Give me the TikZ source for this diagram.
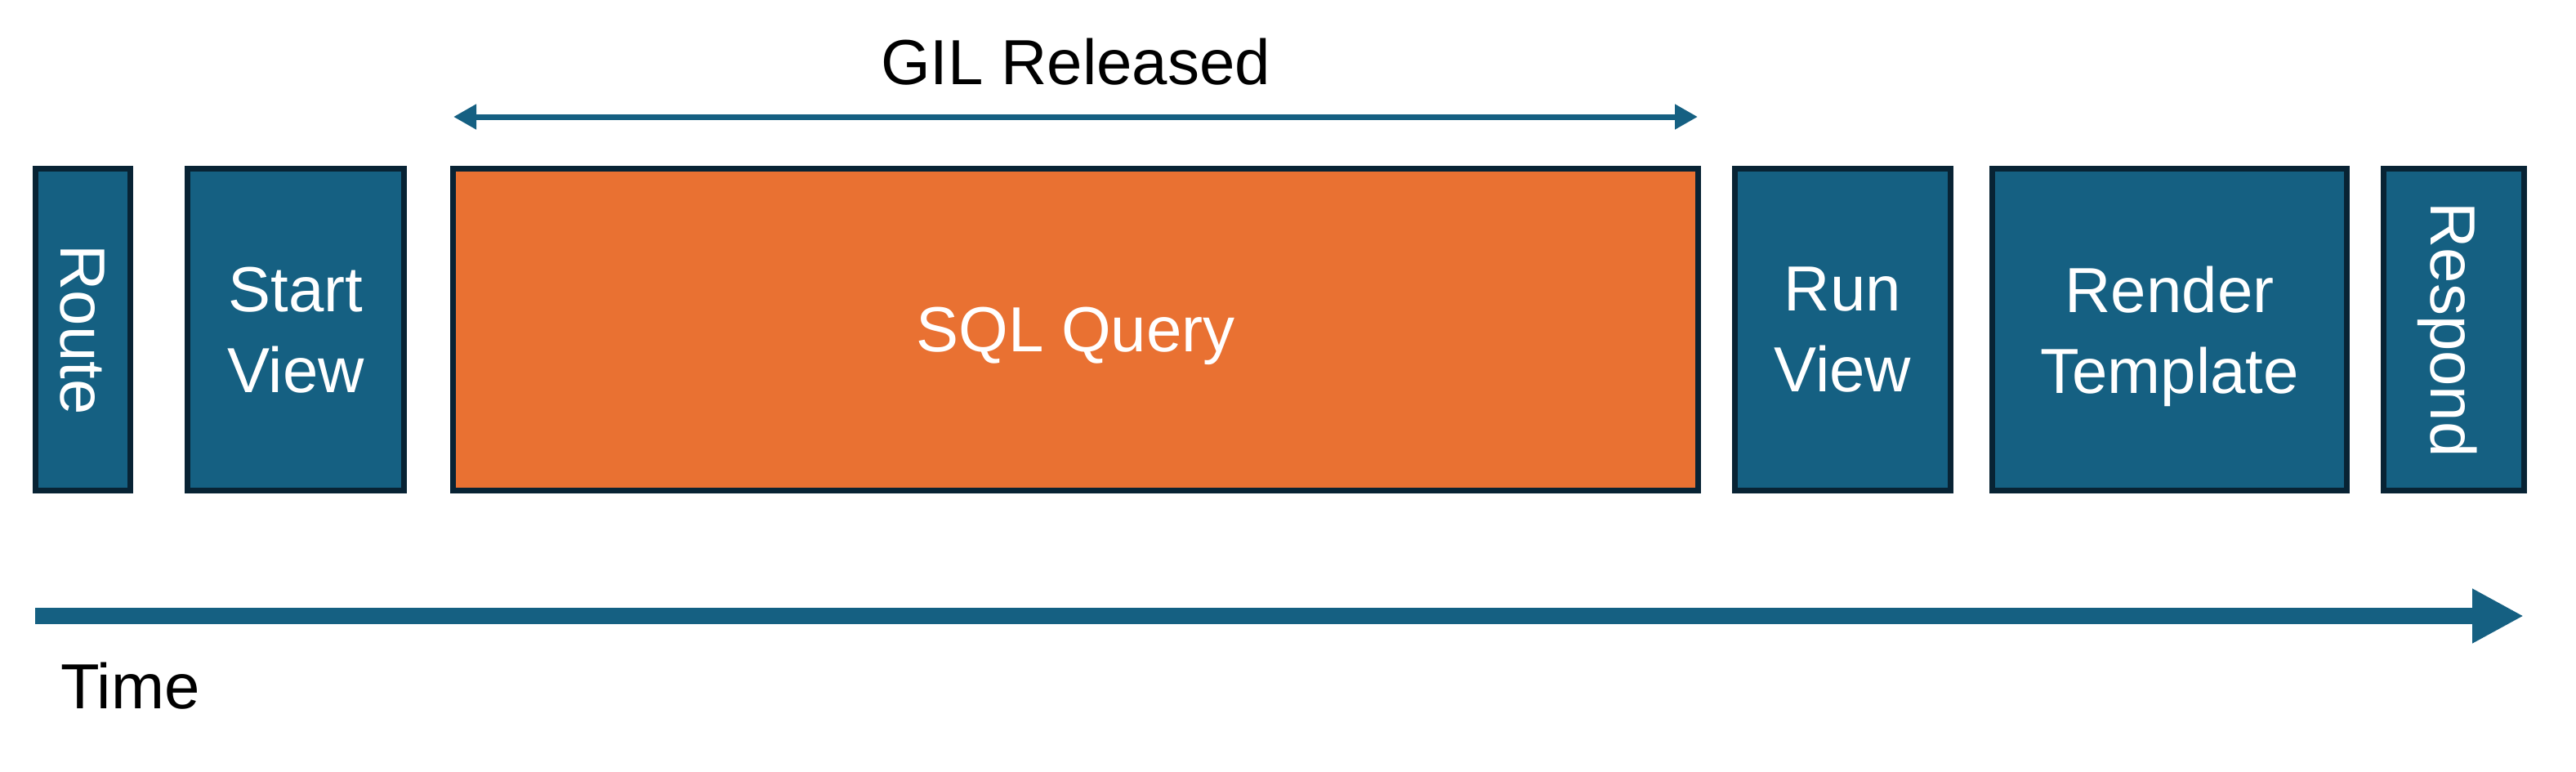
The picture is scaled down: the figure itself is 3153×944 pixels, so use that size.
\documentclass[tikz,border=0pt]{standalone}
\usepackage{fontspec}
\setmainfont{Liberation Sans}
\usepackage{graphicx}
\usetikzlibrary{arrows.meta}
\definecolor{boxblue}{HTML}{156082}
\definecolor{boxedge}{HTML}{082334}
\definecolor{sqlorange}{HTML}{E97132}
\newcommand\nodepth[1]{\raisebox{0pt}[\height][0pt]{#1}}
\begin{document}
\begin{tikzpicture}[x=0.25pt,y=-0.25pt,
  stage/.style={draw=boxedge, line width=1.75pt, fill=boxblue, text=white,
    inner sep=0pt, outer sep=0pt, minimum height=98.5pt, align=center,
    font=\fontsize{19.5}{24.75}\selectfont},
  label/.style={inner sep=0pt, outer sep=0pt, text=black,
    font=\fontsize{19.5}{24.75}\selectfont},
  timeline/.style={draw=boxblue, line width=5pt,
    -{Triangle[length=15.75pt,width=15.6pt]}},
  span/.style={draw=boxblue, line width=1.75pt,
    {Triangle[length=7pt,width=7.3pt]}-{Triangle[length=7pt,width=7.3pt]}}]
\useasboundingbox (0,0) rectangle (3153,944);

\node[stage, minimum width=29pt] (route) at (101.5,403.5) {\rotatebox{-90}{\nodepth{Route}}};
\node[stage, minimum width=66.25pt] (start) at (362,403.5) {Start\\\nodepth{View}};
\node[stage, fill=sqlorange, minimum width=381pt] (sql) at (1316.5,403.5) {\nodepth{SQL Query}};
\node[stage, minimum width=66pt] (run) at (2255.5,403.5) {Run\\\nodepth{View}};
\node[stage, minimum width=108.5pt] (render) at (2655.5,403.5) {Render\\\nodepth{Template}};
\node[stage, minimum width=43pt] (respond) at (3003.5,403.5) {\rotatebox{-90}{\nodepth{Respond}}};

\coordinate (gilL) at (555,143);
\coordinate (gilR) at (2078,143);
\draw[span] (gilL) -- (gilR);
\node[label, anchor=base] (gil) at (1316.5,103) {GIL Released};

\coordinate (t0) at (43,754);
\coordinate (t1) at (3089,754);
\draw[timeline] (t0) -- (t1);
\node[label, anchor=base west] (time) at (74,867) {Time};
\end{tikzpicture}
\end{document}
